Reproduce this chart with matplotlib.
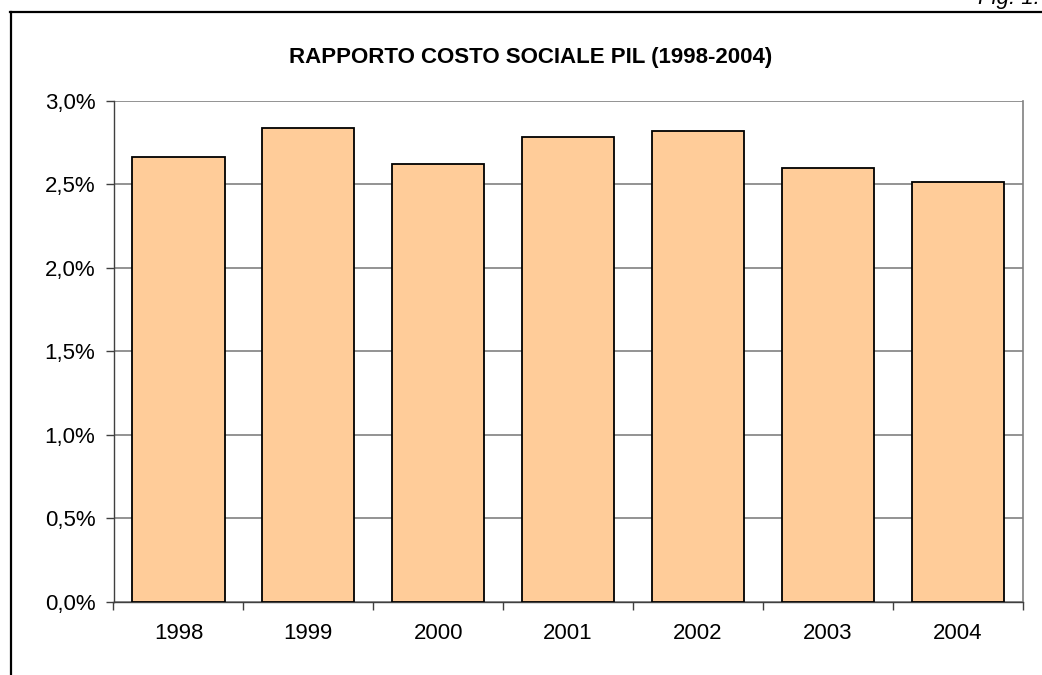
import matplotlib
matplotlib.use("Agg")
import matplotlib.pyplot as plt
from matplotlib.lines import Line2D
from matplotlib.ticker import FuncFormatter, MultipleLocator

plt.rcParams['font.family'] = ['Liberation Sans', 'DejaVu Sans']

# Ratio of social cost to GDP, in percent
years = ["1998", "1999", "2000", "2001", "2002", "2003", "2004"]
ratio_pct = [2.665, 2.838, 2.619, 2.781, 2.819, 2.599, 2.511]

W, H = 1042, 675
fig = plt.figure(figsize=(W / 100, H / 100), dpi=100)

# Plot area in pixel coordinates
left, right, top, bottom = 113.5, 1022.7, 100.7, 601.7
ax = fig.add_axes([left / W, 1 - bottom / H, (right - left) / W, (bottom - top) / H])

x = range(len(years))
ax.bar(x, ratio_pct, width=0.71, color="#FFCC99", edgecolor="black",
       linewidth=1.3, zorder=3)

ax.set_xlim(-0.5, len(years) - 0.5)
ax.set_ylim(0, 3.0)
ax.yaxis.set_major_locator(MultipleLocator(0.5))
ax.yaxis.set_major_formatter(FuncFormatter(lambda v, _: f"{v:.1f}".replace(".", ",") + "%"))
ax.grid(axis="y", color="#808080", linewidth=1.2, zorder=1)

# Category labels centred on bars, tick marks on category boundaries
ax.set_xticks(list(x))
ax.set_xticklabels(years)
ax.set_xticks([i - 0.5 for i in range(len(years) + 1)], minor=True)
ax.tick_params(axis="x", which="major", length=0, pad=15, labelsize=16)
ax.tick_params(axis="x", which="minor", length=6, width=1.0, color="#404040", direction="out")
ax.tick_params(axis="y", length=6, width=1.0, color="#404040", direction="out",
               pad=7, labelsize=16)

for side in ("left", "bottom"):
    ax.spines[side].set_color("#404040")
    ax.spines[side].set_linewidth(1.0)
ax.spines["top"].set_visible(False)
ax.spines["right"].set_color("#808080")
ax.spines["right"].set_linewidth(1.2)

fig.text(531 / W, 1 - 57 / H, "RAPPORTO COSTO SOCIALE PIL (1998-2004)",
         ha="center", va="center", fontsize=16, fontweight="bold")

fig.text(1040 / W, 1 - 4 / H, "Fig. 1.", ha="right", va="baseline",
         fontsize=16, fontstyle="italic")

# Outer frame lines
fig.add_artist(Line2D([10 / W, 1.0], [1 - 11.5 / H, 1 - 11.5 / H],
                      transform=fig.transFigure, color="black", linewidth=1.6))
fig.add_artist(Line2D([11 / W, 11 / W], [1 - 11.5 / H, 0.0],
                      transform=fig.transFigure, color="black", linewidth=1.6))

fig.savefig("out.png", dpi=100)
